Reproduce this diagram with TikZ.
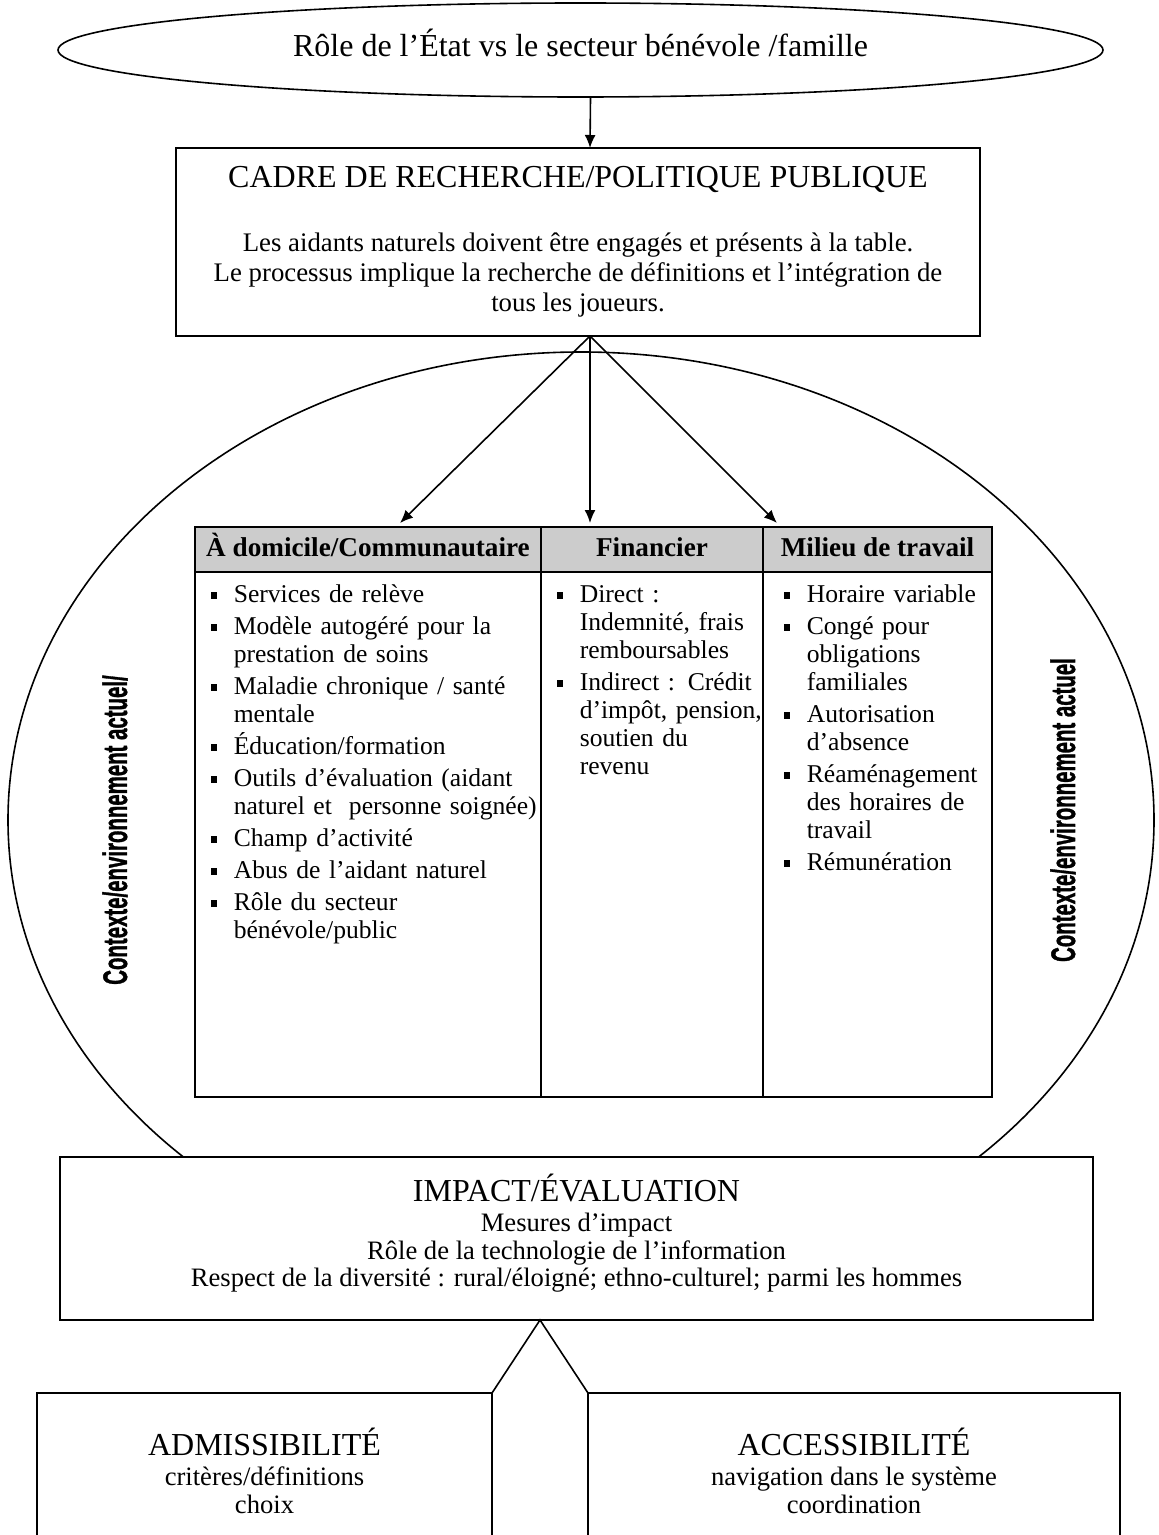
\documentclass[tikz,border=0pt]{standalone}
\usepackage{fontspec}
\setmainfont{Liberation Serif}
\newfontfamily\sidefont[UprightFont={* Bold}, FakeBold=1.5]{Liberation Sans}
\usetikzlibrary{shapes.geometric,arrows.meta,positioning}

\newcommand{\puce}[1]{\par\noindent\hangindent=11.5pt\hangafter=1\makebox[11.5pt][l]{\raisebox{2pt}{\rule{3.2pt}{3.2pt}}}#1\par}

\tikzset{
  boite/.style={rectangle, draw, fill=white, align=center, inner sep=0pt, outer sep=0pt},
  tete/.style={rectangle, draw, fill=black!20, minimum height=22.5pt, inner sep=0pt, outer sep=0pt,
               text height=9.5pt, text depth=3pt, font=\fontsize{13.6}{15}\selectfont\bfseries},
  cellule/.style={rectangle, draw, minimum height=262.5pt, inner sep=0pt, outer sep=0pt},
  liste/.style={anchor=north west, text width=#1, align=left, inner sep=0pt,
                font=\fontsize{12.8}{14}\selectfont},
  texte/.style={align=center, anchor=north, font=\fontsize{13.3}{13.8}\selectfont},
  cote/.style={rotate=90, font=\sidefont\fontsize{17}{20}\selectfont},
  ligne/.style={draw, -{Latex[length=6.5pt,width=5.5pt]}}
}

\begin{document}
\begin{tikzpicture}[x=0.5pt, y=-0.5pt, line width=0.8pt]
        \useasboundingbox (0,0) rectangle (1158,1535);
        \clip (0,0) rectangle (1158,1535);

        % contexte
        \node [ellipse, draw, minimum width=573pt, minimum height=468pt, inner sep=0pt] (env) at (581,820) {};
        \node [cote] (ctxg) at (115,830) {\scalebox{0.6}[1]{Contexte/environnement actuel/}};
        \node [cote] (ctxd) at (1063,810) {\scalebox{0.6}[1]{Contexte/environnement actuel}};

        \node [ellipse, draw, fill=white, minimum width=522.5pt, minimum height=47pt, inner sep=0pt,
               font=\fontsize{16}{18}\selectfont] (role) at (580.5,50) {\raisebox{7pt}{Rôle de l’État vs le secteur bénévole /famille}};
        \node [boite, minimum width=402pt, minimum height=94pt, font=\fontsize{13.4}{15}\selectfont] (cadre) at (578,242)
              {{\fontsize{16}{18}\selectfont CADRE DE RECHERCHE/POLITIQUE PUBLIQUE}\\[17pt]
               Les aidants naturels doivent être engagés et présents à la table.\\
               Le processus implique la recherche de définitions et l’intégration de\\
               tous les joueurs.};

        % tableau
        \node [tete, minimum width=173pt, anchor=north west] (dom) at (195,527) {À domicile/Communautaire};
        \node [tete, minimum width=111pt, right=0pt of dom] (fin) {Financier};
        \node [tete, minimum width=114.5pt, right=0pt of fin] (trav) {Milieu de travail};
        \node [cellule, minimum width=173pt, below=0pt of dom] (cdom) {};
        \node [cellule, minimum width=111pt, below=0pt of fin] (cfin) {};
        \node [cellule, minimum width=114.5pt, below=0pt of trav] (ctrav) {};

        \node [liste=168pt] (ldom) at (210,570) {\setlength{\parskip}{2pt}%
            \puce{Services de relève}
            \puce{Modèle autogéré pour la\newline prestation de soins}
            \puce{Maladie chronique / santé\newline mentale}
            \puce{Éducation/formation}
            \puce{Outils d’évaluation (aidant\newline naturel et~ personne soignée)}
            \puce{Champ d’activité}
            \puce{Abus de l’aidant naturel}
            \puce{Rôle du secteur\newline bénévole/public}};
        \node [liste=105pt] (lfin) at (556,570) {\setlength{\parskip}{2pt}%
            \puce{Direct :\newline Indemnité, frais\newline remboursables}
            \puce{Indirect : Crédit\newline d’impôt, pension,\newline soutien du\newline revenu}};
        \node [liste=105pt] (ltrav) at (783,570) {\setlength{\parskip}{2pt}%
            \puce{Horaire variable}
            \puce{Congé pour\newline obligations\newline familiales}
            \puce{Autorisation\newline d’absence}
            \puce{Réaménagement\newline des horaires de\newline travail}
            \puce{Rémunération}};

        % impact
        \node [boite, minimum width=516.5pt, minimum height=81.5pt] (impact) at (576.5,1238.5) {};
        \node [texte, below=5pt of impact.north] (timpact)
              {{\fontsize{16}{18}\selectfont IMPACT/ÉVALUATION}\\[1pt]
               Mesures d’impact\\
               Rôle de la technologie de l’information\\
               Respect de la diversité : rural/éloigné; ethno-culturel; parmi les hommes};

        \node [boite, minimum width=227.5pt, minimum height=90pt, anchor=north west] (admi) at (37,1393) {};
        \node [boite, minimum width=266pt, minimum height=90pt, anchor=north west] (acce) at (588,1393) {};
        \node [texte, below=14pt of admi.north] (tadmi)
              {{\fontsize{16}{18}\selectfont ADMISSIBILITÉ}\\[1pt] critères/définitions\\ choix};
        \node [texte, below=14pt of acce.north] (tacce)
              {{\fontsize{16}{18}\selectfont ACCESSIBILITÉ}\\[1pt] navigation dans le système\\ coordination};
        \coordinate (pointe) at ([xshift=-18.25pt]impact.south);

        \draw [ligne] ([xshift=5pt]role.south) -- ([xshift=6pt]cadre.north);
        \draw [ligne] ([xshift=6pt]cadre.south) -- ([xshift=102.5pt,yshift=2pt]dom.north west);
        \draw [ligne] ([xshift=6pt]cadre.south) -- ([xshift=24.5pt,yshift=2pt]fin.north west);
        \draw [ligne] ([xshift=6pt]cadre.south) -- ([xshift=7pt,yshift=2pt]trav.north west);
        \draw (admi.north east) -- (pointe) -- (acce.north west);

    \end{tikzpicture}
\end{document}
